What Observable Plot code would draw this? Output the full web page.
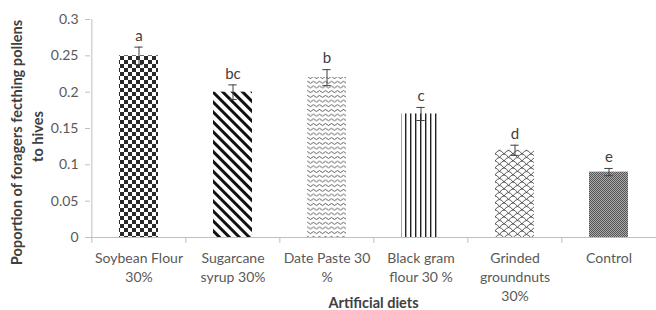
<!DOCTYPE html>
<html><head><meta charset="utf-8">
<script src="https://cdn.jsdelivr.net/npm/d3@7"></script>
<script src="https://cdn.jsdelivr.net/npm/@observablehq/plot@0.6"></script>
<style>body{margin:0;background:#fff} svg{display:block}</style>
</head><body><div id="chart"></div>
<script>
const categories = ["Soybean Flour 30%", "Sugarcane syrup 30%", "Date Paste 30 %", "Black gram flour 30 %", "Grinded groundnuts 30%", "Control"];
const tickLabels = ["Soybean Flour\n30%", "Sugarcane\nsyrup 30%", "Date Paste 30\n%", "Black gram\nflour 30 %", "Grinded\ngroundnuts\n30%", "Control"];
const values = [0.25, 0.20, 0.22, 0.17, 0.12, 0.09];
const errors = [0.012, 0.01, 0.011, 0.009, 0.007, 0.005];
const letters = ["a", "bc", "b", "c", "d", "e"];
const patterns = ["checker", "diag", "wave", "vert", "scale", "dots"];
const yTicks = [0, 0.05, 0.1, 0.15, 0.2, 0.25, 0.3];
const yLabel1 = "Poportion of foragers fecthing pollens";
const yLabel2 = "to hives";
const xLabel = "Artificial diets";

const data = categories.map((c, i) => ({cat: c, v: values[i], e: errors[i], l: letters[i], p: `url(#pat-${patterns[i]})`}));

const W = 656, H = 310, mL = 90, mR = 0, mT = 19, mB = 73;
const step = (W - mL - mR) / categories.length;
const bw = step * 0.41;
const capInset = (bw - 8) / 2;

const chart = Plot.plot({
  width: W, height: H, marginLeft: mL, marginRight: mR, marginTop: mT, marginBottom: mB,
  style: {fontFamily: "Lato, sans-serif", fontSize: "14px", color: "#595959", background: "#fff", overflow: "visible"},
  x: {domain: categories, paddingInner: 0.59, paddingOuter: 0.295, axis: null},
  y: {domain: [0, 0.3], axis: null},
  color: {type: "identity"},
  marks: [
    Plot.barY(data, {x: "cat", y: "v", fill: "p"}),
    Plot.ruleY([0], {stroke: "#bfbfbf"}),
    Plot.ruleX([categories[0]], {x: d => d, dx: -step / 2, y1: 0, y2: 0.3, stroke: "#bfbfbf"}),
    Plot.axisX({tickSize: 6, tickFormat: () => "", dx: -step / 2, stroke: "#bfbfbf", label: null}),
    Plot.axisX({tickSize: 0, tickPadding: 12, tickFormat: d => tickLabels[categories.indexOf(d)], lineHeight: 1.36, fill: "#595959", fontSize: 14, label: null}),
    Plot.axisY({ticks: yTicks, tickFormat: d => String(d), tickSize: 5, tickPadding: 7, stroke: "#bfbfbf", fill: "#595959", fontSize: 14, label: null}),
    Plot.ruleX(data, {x: "cat", y1: d => d.v - d.e, y2: d => d.v + d.e, stroke: "#404040", strokeWidth: 1}),
    Plot.tickY(data, {x: "cat", y: d => d.v + d.e, stroke: "#404040", insetLeft: capInset, insetRight: capInset}),
    Plot.tickY(data, {x: "cat", y: d => d.v - d.e, stroke: "#404040", insetLeft: capInset, insetRight: capInset}),
    Plot.text(data, {x: "cat", y: d => d.v + d.e, text: "l", dy: -11, fontSize: 15, fill: "#404040"}),
    Plot.text([yLabel1], {frameAnchor: "left", text: d => d, rotate: -90, dx: -73, dy: 14, textAnchor: "middle", lineAnchor: "middle", fontWeight: "bold", fontSize: 14.6, fill: "#404040"}),
    Plot.text([yLabel2], {frameAnchor: "left", text: d => d, rotate: -90, dx: -52, dy: 8, textAnchor: "middle", lineAnchor: "middle", fontWeight: "bold", fontSize: 14.6, fill: "#404040"}),
    Plot.text([xLabel], {frameAnchor: "bottom", text: d => d, dy: 66, textAnchor: "middle", lineAnchor: "middle", fontWeight: "bold", fontSize: 14.5, fill: "#404040"})
  ]
});

const svg = d3.select(chart);
const defs = svg.insert("defs", ":first-child");
// checkerboard
let p = defs.append("pattern").attr("id", "pat-checker").attr("patternUnits", "userSpaceOnUse").attr("width", 8).attr("height", 8);
p.append("rect").attr("width", 8).attr("height", 8).attr("fill", "#fff");
p.append("rect").attr("width", 4).attr("height", 4).attr("fill", "#2a2a2a");
p.append("rect").attr("x", 4).attr("y", 4).attr("width", 4).attr("height", 4).attr("fill", "#2a2a2a");
// diagonal stripes
p = defs.append("pattern").attr("id", "pat-diag").attr("patternUnits", "userSpaceOnUse").attr("width", 7).attr("height", 7).attr("patternTransform", "rotate(-45)");
p.append("rect").attr("width", 7).attr("height", 7).attr("fill", "#fff");
p.append("rect").attr("width", 3).attr("height", 7).attr("fill", "#111");
// wave
p = defs.append("pattern").attr("id", "pat-wave").attr("patternUnits", "userSpaceOnUse").attr("width", 6).attr("height", 4.7);
p.append("rect").attr("width", 6).attr("height", 4.7).attr("fill", "#fff");
p.append("path").attr("d", "M0 2.35 Q1.5 0.4 3 2.35 T6 2.35").attr("fill", "none").attr("stroke", "#333").attr("stroke-width", 0.8);
// vertical lines
p = defs.append("pattern").attr("id", "pat-vert").attr("patternUnits", "userSpaceOnUse").attr("width", 5).attr("height", 10);
p.append("rect").attr("width", 5).attr("height", 10).attr("fill", "#fff");
p.append("rect").attr("width", 1.4).attr("height", 10).attr("fill", "#222");
// scales
p = defs.append("pattern").attr("id", "pat-scale").attr("patternUnits", "userSpaceOnUse").attr("width", 9).attr("height", 7);
p.append("rect").attr("width", 9).attr("height", 7).attr("fill", "#fff");
p.append("path").attr("d", "M0 7 Q4.5 0 9 7 M-4.5 3.5 Q0 -3.5 4.5 3.5 M4.5 3.5 Q9 -3.5 13.5 3.5 M-4.5 10.5 Q0 3.5 4.5 10.5 M4.5 10.5 Q9 3.5 13.5 10.5").attr("fill", "none").attr("stroke", "#333").attr("stroke-width", 0.8);
// dots
p = defs.append("pattern").attr("id", "pat-dots").attr("patternUnits", "userSpaceOnUse").attr("width", 2).attr("height", 2);
p.append("rect").attr("width", 2).attr("height", 2).attr("fill", "#aaa");
p.append("rect").attr("width", 1).attr("height", 1).attr("fill", "#555");
p.append("rect").attr("x", 1).attr("y", 1).attr("width", 1).attr("height", 1).attr("fill", "#555");

document.getElementById("chart").appendChild(chart);
</script>
</body></html>
